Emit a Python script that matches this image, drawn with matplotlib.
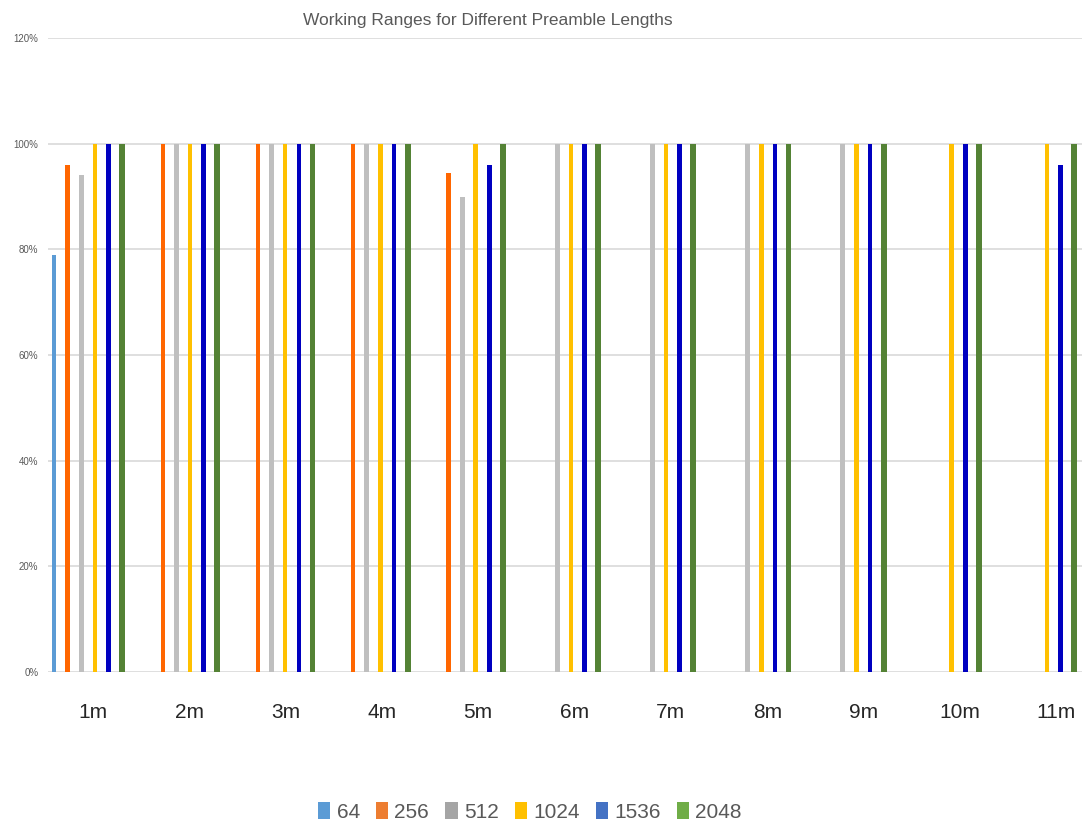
import matplotlib
matplotlib.use("Agg")
import matplotlib.pyplot as plt
from matplotlib.patches import Patch
from matplotlib.ticker import PercentFormatter
import numpy as np

plt.rcParams['font.family'] = ['Liberation Sans', 'DejaVu Sans']

distances = ['1m', '2m', '3m', '4m', '5m', '6m', '7m', '8m', '9m', '10m', '11m']
preambles = ['64', '256', '512', '1024', '1536', '2048']

# Success rate (%) per preamble length at each distance
rate_64   = [79, 0, 0, 0, 0, 0, 0, 0, 0, 0, 0]
rate_256  = [96, 100, 100, 100, 94.5, 0, 0, 0, 0, 0, 0]
rate_512  = [94, 100, 100, 100, 90, 100, 100, 100, 100, 0, 0]
rate_1024 = [100, 100, 100, 100, 100, 100, 100, 100, 100, 100, 100]
rate_1536 = [100, 100, 100, 100, 96, 100, 100, 100, 100, 100, 96]
rate_2048 = [100, 100, 100, 100, 100, 100, 100, 100, 100, 100, 100]

series = [rate_64, rate_256, rate_512, rate_1024, rate_1536, rate_2048]
bar_colors = ['#5B9BD5', '#FF6600', '#BFBFBF', '#FFC000', '#0000C0', '#548235']
legend_colors = ['#5B9BD5', '#ED7D31', '#A5A5A5', '#FFC000', '#4472C4', '#70AD47']
bar_widths = [0.04, 0.047, 0.052, 0.047, 0.047, 0.062]

fig = plt.figure(figsize=(10.87, 8.27), dpi=100)
ax = fig.add_axes([0.0442, 0.1874, 0.9512, 0.7666])

x = np.arange(len(distances))
slot = 0.143
for i, (vals, col, w) in enumerate(zip(series, bar_colors, bar_widths)):
    offs = (i - 2.5) * slot
    ax.bar(x + offs, vals, width=w, color=col, zorder=3, linewidth=0)

ax.set_xlim(-0.42, 10.44)
ax.set_ylim(0, 120)
ax.set_yticks(np.arange(0, 121, 20))
ax.yaxis.set_major_formatter(PercentFormatter(decimals=0))
ax.grid(axis='y', color='#D9D9D9', linewidth=1.2, zorder=0)
for s in ax.spines.values():
    s.set_visible(False)
ax.tick_params(axis='y', length=0, labelsize=7, labelcolor='#595959', pad=7)
# category labels sit slightly right of each cluster centre
ax.set_xticks(x + 0.05 + 0.012 * x)
ax.set_xticklabels(distances)
ax.tick_params(axis='x', length=0, labelsize=15, labelcolor='#262626', pad=22)

fig.text(0.449, 0.975, 'Working Ranges for Different Preamble Lengths',
         ha='center', va='center', fontsize=12.5, color='#595959')

handles = [Patch(facecolor=c, edgecolor='none') for c in legend_colors]
fig.legend(handles, preambles, loc='center', bbox_to_anchor=(0.4876, 0.018),
           ncol=6, frameon=False, fontsize=15, labelcolor='#595959',
           handlelength=0.58, handleheight=0.9, handletextpad=0.3,
           columnspacing=0.78)

fig.savefig('out.png', dpi=100)
